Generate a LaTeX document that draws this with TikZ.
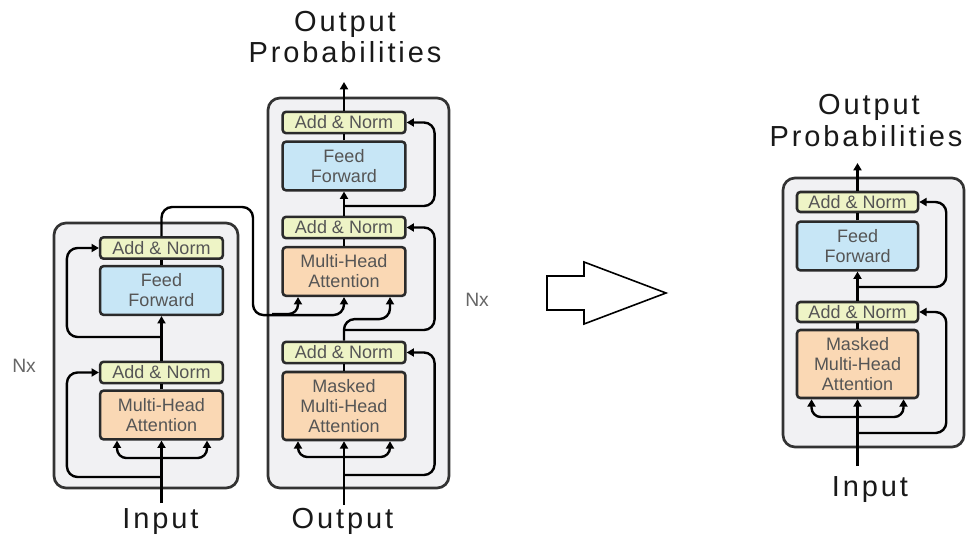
\documentclass[tikz,border=0pt]{standalone}
\usepackage{fontspec}
\setmainfont{Liberation Sans}
\newfontfamily\biglabel[LetterSpace=10]{Liberation Sans}
\usetikzlibrary{calc,arrows.meta}
\definecolor{anfill}{HTML}{EEF4C6}
\definecolor{fffill}{HTML}{C7E6F6}
\definecolor{mhafill}{HTML}{FAD8B4}
\definecolor{outerfill}{HTML}{F1F1F3}
\definecolor{boxline}{HTML}{2A2A2A}
\definecolor{outline}{HTML}{333333}
\definecolor{boxtext}{HTML}{555555}
\definecolor{nxtext}{HTML}{666666}
\tikzset{
 blk/.style={draw=boxline, line width=1.9pt, rounded corners=2.5pt, minimum width=92pt, align=center, font=\fontsize{13.5}{15}\selectfont, text=boxtext, inner sep=0pt},
 an/.style={blk, fill=anfill, minimum height=16pt},
 ff/.style={blk, fill=fffill, minimum height=36.5pt},
 mha/.style={blk, fill=mhafill, minimum height=36.5pt},
 outer/.style={draw=outline, line width=2pt, fill=outerfill, rounded corners=9pt},
 conn/.style={line width=1.8pt, draw=black},
 arr/.style={conn, -{Triangle[length=5.5pt,width=6pt]}},
 big/.style={font=\biglabel\fontsize{21.75}{26}\selectfont, text=black!90, anchor=base, inner sep=0pt},
 nx/.style={font=\fontsize{14.5}{16}\selectfont, text=nxtext, anchor=base west, inner sep=0pt},
 blockarrow/.style={draw=black, line width=1.2pt, fill=white, line join=miter},
}
\begin{document}
\begin{tikzpicture}[x=0.75pt,y=-0.75pt]
\useasboundingbox (0,0) rectangle (969,538);
% outer boxes
\draw[outer] (54,223) rectangle (238,488);
\draw[outer] (268,98) rectangle (449,488);
\draw[outer] (783,178) rectangle (964,447);

% encoder
\node[an] (eAN2) at (161.5,248) {Add \& Norm};
\node[ff] (eFF) at (161.5,290.5) {Feed\\Forward};
\node[an] (eAN1) at (161.5,372.5) {Add \& Norm};
\node[mha] (eMHA) at (161.5,415) {Multi-Head\\Attention};

% decoder
\node[an] (dAN3) at (344,122.5) {Add \& Norm};
\node[ff] (dFF) at (344,166) {Feed\\Forward};
\node[an] (dAN2) at (344,227.5) {Add \& Norm};
\node[mha] (dMHA) at (344,271.5) {Multi-Head\\Attention};
\node[an] (dAN1) at (344,352.5) {Add \& Norm};
\node[mha, minimum height=51pt] (dMMHA) at (344,406) {Masked\\Multi-Head\\Attention};

% right block
\node[an, minimum width=90.75pt, minimum height=15pt] (rAN2) at (857.5,202) {Add \& Norm};
\node[ff, minimum width=90.75pt] (rFF) at (857.5,246) {Feed\\Forward};
\node[an, minimum width=90.75pt, minimum height=15pt] (rAN1) at (857.5,312) {Add \& Norm};
\node[mha, minimum width=90.75pt, minimum height=51pt] (rMMHA) at (857.5,364) {Masked\\Multi-Head\\Attention};

% labels
\node[big] (tOut) at (345,32) {Output};
\node[big] (tProb) at (345,63) {Probabilities};
\node[big] (tIn) at (160.5,528) {Input};
\node[big] (bOut) at (342.5,528) {Output};
\node[big] (rOut) at (869,115) {Output};
\node[big] (rProb) at (866,147) {Probabilities};
\node[big] (rInT) at (870,496) {Input};
\node[nx] (nx1) at (12,372) {Nx};
\node[nx] (nx2) at (465,306) {Nx};

% encoder connectors
\coordinate (eIn) at (161.5,503);
\draw[arr] (eIn) -- (eMHA.south);
\coordinate (eBr) at (161.5,458);
\draw[arr, rounded corners=7] (eBr) -| ($(eMHA.south)+(-44.5,0)$);
\draw[arr, rounded corners=7] (eBr) -| ($(eMHA.south)+(45.5,0)$);
\coordinate (eR1) at (161.5,477);
\draw[arr, rounded corners=8] (eR1) -| ($(eAN1.west)+(-32,0)$) -- (eAN1.west);
\draw[conn] (eMHA.north) -- (eAN1.south);
\draw[arr] (eAN1.north) -- (eFF.south);
\coordinate (eR2) at (161.5,337);
\draw[arr, rounded corners=8] (eR2) -| ($(eAN2.west)+(-32,0)$) -- (eAN2.west);
\draw[conn] (eFF.north) -- (eAN2.south);
% encoder output to decoder
\coordinate (eo1) at (253,207);
\draw[arr, rounded corners=8] (eAN2.north) |- (eo1) |- ($(dMHA.south)+(0,18)$) -- (dMHA.south);
\coordinate (eBr2) at (272,314);
\draw[arr, rounded corners=7] (eBr2) -| ($(dMHA.south)+(-46,0)$);

% decoder connectors
\coordinate (dIn) at (344,505);
\draw[arr] (dIn) -- (dMMHA.south);
\coordinate (dBr) at (344,457);
\draw[arr, rounded corners=7] (dBr) -| ($(dMMHA.south)+(-46,0)$);
\draw[arr, rounded corners=7] (dBr) -| ($(dMMHA.south)+(46,0)$);
\coordinate (dR1) at (344,475);
\draw[arr, rounded corners=8] (dR1) -| ($(dAN1.east)+(28,0)$) -- (dAN1.east);
\draw[conn] (dMMHA.north) -- (dAN1.south);
\draw[arr, rounded corners=8] (dAN1.north) |- ($(dMHA.south)+(46,22)$) -- ($(dMHA.south)+(46,0)$);
\coordinate (dR2) at (344,330);
\draw[arr, rounded corners=8] (dR2) -| ($(dAN2.east)+(28,0)$) -- (dAN2.east);
\draw[conn] (dMHA.north) -- (dAN2.south);
\draw[arr] (dAN2.north) -- (dFF.south);
\coordinate (dR3) at (344,206);
\draw[arr, rounded corners=8] (dR3) -| ($(dAN3.east)+(28,0)$) -- (dAN3.east);
\draw[conn] (dFF.north) -- (dAN3.south);
\coordinate (dOut) at (344,82);
\draw[arr] (dAN3.north) -- (dOut);

% right block connectors
\coordinate (rIn) at (857.5,466);
\draw[arr] (rIn) -- (rMMHA.south);
\coordinate (rBr) at (857.5,417);
\draw[arr, rounded corners=7] (rBr) -| ($(rMMHA.south)+(-46,0)$);
\draw[arr, rounded corners=7] (rBr) -| ($(rMMHA.south)+(46,0)$);
\coordinate (rR1) at (857.5,433);
\draw[arr, rounded corners=8] (rR1) -| ($(rAN1.east)+(27,0)$) -- (rAN1.east);
\draw[conn] (rMMHA.north) -- (rAN1.south);
\draw[arr] (rAN1.north) -- (rFF.south);
\coordinate (rR2) at (857.5,287);
\draw[arr, rounded corners=8] (rR2) -| ($(rAN2.east)+(27,0)$) -- (rAN2.east);
\draw[conn] (rFF.north) -- (rAN2.south);
\coordinate (rOutC) at (857.5,163);
\draw[arr] (rAN2.north) -- (rOutC);

% block arrow
\draw[blockarrow] (547,276) -- (584,276) -- (584,262) -- (666,293) -- (584,324) -- (584,310) -- (547,310) -- cycle;
\end{tikzpicture}
\end{document}
